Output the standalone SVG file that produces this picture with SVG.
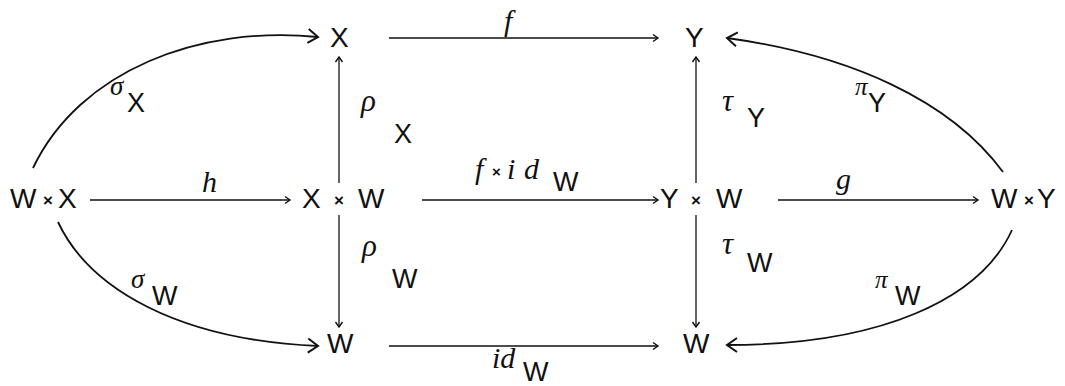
<svg xmlns="http://www.w3.org/2000/svg" width="1065" height="386" viewBox="0 0 1065 386">
<style>
.n{font-family:"Liberation Sans","DejaVu Sans",sans-serif;font-size:28px;fill:#111}
.t{font-family:"Liberation Sans","DejaVu Sans",sans-serif;font-size:17px;font-weight:bold;fill:#111}
.l{font-family:"Liberation Serif","DejaVu Serif",serif;font-style:italic;font-size:30px;fill:#111}
.g{font-family:"Liberation Serif","DejaVu Serif",serif;font-style:italic;font-size:31px;fill:#111}
.s{font-family:"Liberation Sans","DejaVu Sans",sans-serif;font-size:27px;fill:#111}
.a{fill:none;stroke:#111;stroke-width:1.3}
.c{fill:none;stroke:#111;stroke-width:1.8}
</style>
<defs>
<marker id="sm" markerUnits="userSpaceOnUse" markerWidth="12" markerHeight="12" refX="0" refY="0" viewBox="-8 -6 10 12" orient="auto">
<path d="M-5,-3.5 L0,0 L-5,3.5" fill="none" stroke="#111" stroke-width="1.4"/>
</marker>
<marker id="lg" markerUnits="userSpaceOnUse" markerWidth="20" markerHeight="20" refX="0" refY="0" viewBox="-14 -10 16 20" orient="auto">
<path d="M-10,-7 L0,0 L-10,7" fill="none" stroke="#111" stroke-width="2"/>
</marker>
</defs>

<g id="connectors">
<line class="a" x1="389" y1="38" x2="658" y2="38" marker-end="url(#sm)"/>
<line class="a" x1="90" y1="200" x2="290" y2="200" marker-end="url(#sm)"/>
<line class="a" x1="422" y1="200" x2="658" y2="200" marker-end="url(#sm)"/>
<line class="a" x1="778" y1="200" x2="978" y2="200" marker-end="url(#sm)"/>
<line class="a" x1="389" y1="346" x2="658" y2="346" marker-end="url(#sm)"/>
<line class="a" x1="339" y1="183" x2="339" y2="57" marker-end="url(#sm)"/>
<line class="a" x1="339" y1="215" x2="339" y2="327" marker-end="url(#sm)"/>
<line class="a" x1="696" y1="183" x2="696" y2="57" marker-end="url(#sm)"/>
<line class="a" x1="696" y1="215" x2="696" y2="327" marker-end="url(#sm)"/>
<path class="c" d="M33,168 C80,70 200,25 318,37" marker-end="url(#lg)"/>
<path class="c" d="M58,222 C90,290 180,340 318,346" marker-end="url(#lg)"/>
<path class="c" d="M1003,172 C950,100 850,55 727,38" marker-end="url(#lg)"/>
<path class="c" d="M1012,230 C980,300 880,345 727,345" marker-end="url(#lg)"/>
</g>

<g id="node-X"><text class="n" x="330" y="47">X</text></g>
<g id="node-Y"><text class="n" x="685" y="47">Y</text></g>
<g id="node-WxX"><text class="n" x="10" y="208">W</text><text class="t" x="43" y="206">×</text><text class="n" x="58" y="208">X</text></g>
<g id="node-XxW"><text class="n" x="302" y="208">X</text><text class="t" x="334" y="206">×</text><text class="n" x="358" y="208">W</text></g>
<g id="node-YxW"><text class="n" x="660" y="208">Y</text><text class="t" x="691" y="206">×</text><text class="n" x="716" y="208">W</text></g>
<g id="node-WxY"><text class="n" x="991" y="208">W</text><text class="t" x="1024" y="206">×</text><text class="n" x="1037" y="208">Y</text></g>
<g id="node-W1"><text class="n" x="327" y="353">W</text></g>
<g id="node-W2"><text class="n" x="683" y="353">W</text></g>

<g id="labels">
<text class="l" x="504" y="31">f</text>
<text class="l" x="202" y="192">h</text>
<text class="l" x="475" y="179">f</text>
<text class="t" x="492" y="177" style="font-size:15px">×</text>
<text class="l" x="507" y="179">i</text>
<text class="l" x="524" y="179">d</text>
<text class="s" x="553" y="191">W</text>
<text class="l" x="836" y="189">g</text>
<text class="l" x="492" y="368">id</text>
<text class="s" x="523" y="381">W</text>
<text class="g" x="361" y="111">ρ</text>
<text class="s" x="394" y="143">X</text>
<text class="g" x="362" y="256">ρ</text>
<text class="s" x="392" y="288">W</text>
<text class="g" x="722" y="111">τ</text>
<text class="s" x="747" y="127">Y</text>
<text class="g" x="722" y="254">τ</text>
<text class="s" x="747" y="272">W</text>
<text class="g" x="110" y="95" style="font-size:27px">σ</text>
<text class="s" x="127" y="112">X</text>
<text class="g" x="131" y="288" style="font-size:27px">σ</text>
<text class="s" x="152" y="305">W</text>
<text class="g" x="855" y="95" style="font-size:25px">π</text>
<text class="s" x="868" y="112">Y</text>
<text class="g" x="875" y="288" style="font-size:25px">π</text>
<text class="s" x="895" y="305">W</text>
</g>
</svg>
